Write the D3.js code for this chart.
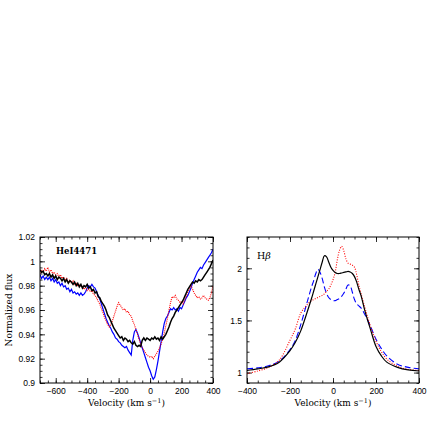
<!DOCTYPE html>
<html>
<head>
<meta charset="utf-8">
<script src="https://cdn.jsdelivr.net/npm/d3@7"></script>
<style>
  body { margin: 0; background: #fff; }
  .tick text { font-family: "Liberation Sans", Arial, sans-serif; font-size: 8.5px; fill: #000; }
  .domain { display: none; }
  .tick line { stroke: #000; stroke-width: 0.8; }
</style>
</head>
<body>
<div id="chart"></div>
<script>
// He I 4471 panel, velocity grid -700..400 step 10
var heVel = d3.range(-700, 401, 10);
var heBlack = [0.993,0.991,0.992,0.989,0.990,0.988,0.990,0.987,0.989,0.986,0.988,0.985,0.987,0.986,0.984,0.986,0.983,0.985,0.982,0.984,
  0.983,0.981,0.983,0.980,0.982,0.979,0.981,0.978,0.980,0.979,0.981,0.978,0.979,0.976,0.977,0.974,0.975,0.971,0.970,0.967,
  0.965,0.963,0.960,0.956,0.954,0.951,0.948,0.945,0.943,0.941,0.939,0.937,0.938,0.935,0.937,0.936,0.934,0.935,0.933,0.932,
  0.934,0.931,0.930,0.931,0.930,0.935,0.937,0.935,0.937,0.936,0.935,0.937,0.936,0.938,0.936,0.937,0.935,0.938,0.936,0.938,
  0.940,0.943,0.946,0.950,0.953,0.955,0.958,0.960,0.962,0.964,0.966,0.968,0.971,0.974,0.977,0.979,0.981,0.983,0.982,0.984,
  0.983,0.985,0.984,0.985,0.987,0.989,0.991,0.993,0.995,0.998,1.001];
var heRed = [0.990,0.993,0.991,0.994,0.992,0.995,0.991,0.993,0.990,0.991,0.989,0.990,0.987,0.989,0.986,0.987,0.985,0.986,0.983,0.985,
  0.982,0.984,0.981,0.982,0.980,0.981,0.979,0.980,0.977,0.979,0.976,0.977,0.975,0.976,0.973,0.972,0.970,0.967,0.965,0.961,
  0.958,0.954,0.951,0.948,0.946,0.948,0.951,0.955,0.959,0.963,0.966,0.964,0.962,0.960,0.961,0.958,0.959,0.956,0.955,0.951,
  0.948,0.944,0.940,0.936,0.932,0.929,0.927,0.925,0.923,0.922,0.921,0.922,0.920,0.922,0.924,0.926,0.929,0.932,0.936,0.941,
  0.947,0.953,0.960,0.966,0.971,0.970,0.972,0.969,0.968,0.966,0.967,0.965,0.968,0.971,0.975,0.978,0.980,0.977,0.974,0.972,
  0.970,0.971,0.969,0.970,0.972,0.970,0.969,0.968,0.970,0.974,0.980];
var heBlue = [0.989,0.986,0.988,0.985,0.987,0.985,0.987,0.984,0.986,0.983,0.985,0.982,0.983,0.980,0.982,0.979,0.980,0.977,0.978,0.975,
  0.977,0.974,0.975,0.973,0.974,0.972,0.974,0.972,0.973,0.975,0.978,0.980,0.979,0.981,0.979,0.978,0.975,0.972,0.969,0.965,
  0.961,0.957,0.953,0.950,0.947,0.945,0.942,0.940,0.937,0.936,0.934,0.933,0.931,0.930,0.929,0.930,0.927,0.925,0.923,0.935,
  0.942,0.944,0.941,0.937,0.933,0.929,0.925,0.921,0.917,0.913,0.910,0.906,0.903,0.905,0.911,0.918,0.926,0.934,0.942,0.949,
  0.953,0.955,0.958,0.961,0.960,0.962,0.960,0.961,0.959,0.962,0.961,0.964,0.967,0.970,0.972,0.975,0.978,0.982,0.985,0.988,
  0.991,0.993,0.995,0.994,0.997,0.999,1.001,1.003,1.005,1.007,1.010];

// H beta panel
var hbVel = [-400,-350,-300,-250,-200,-175,-150,-125,-100,-90,-80,-70,-60,-50,-40,-30,-20,-10,0,10,20,30,40,50,60,70,80,90,100,110,120,130,150,175,200,225,250,300,350,400];
var hbBlack = [1.02,1.035,1.055,1.10,1.21,1.29,1.40,1.55,1.71,1.78,1.85,1.92,1.99,2.06,2.12,2.11,2.06,2.01,1.98,1.96,1.95,1.95,1.955,1.96,1.965,1.97,1.965,1.95,1.92,1.87,1.80,1.74,1.58,1.41,1.25,1.16,1.10,1.05,1.025,1.015];
var hbRed = [0.99,1.015,1.05,1.12,1.31,1.42,1.57,1.64,1.69,1.70,1.71,1.72,1.73,1.74,1.755,1.78,1.80,1.84,1.89,1.96,2.08,2.17,2.21,2.17,2.09,2.05,2.04,2.03,2.01,1.94,1.84,1.76,1.61,1.44,1.30,1.20,1.13,1.06,1.03,1.02];
var hbBlue = [1.035,1.045,1.065,1.11,1.22,1.31,1.46,1.64,1.82,1.88,1.95,1.99,1.96,1.90,1.82,1.76,1.72,1.70,1.69,1.69,1.70,1.71,1.73,1.76,1.80,1.84,1.83,1.77,1.70,1.66,1.64,1.62,1.55,1.44,1.32,1.23,1.16,1.08,1.05,1.035];

var heXMajor = [-600,-400,-200,0,200,400], heXMinor = d3.range(-700, 401, 50);
var heYMajor = [0.9,0.92,0.94,0.96,0.98,1,1.02], heYMinor = d3.range(0.9, 1.0201, 0.005);
var hbXMajor = [-400,-200,0,200,400], hbXMinor = d3.range(-400, 401, 50);
var hbYMajor = [1,1.5,2], hbYMinor = d3.range(0.9, 2.301, 0.1);

var svg = d3.select("#chart").append("svg").attr("width", 436).attr("height", 436);

function panel(opt) {
  var x = d3.scaleLinear().domain(opt.xd).range([opt.x0, opt.x1]);
  var y = d3.scaleLinear().domain(opt.yd).range([opt.y1, opt.y0]);
  var g = svg.append("g");
  var yfmt = function(d) { return d3.format("~g")(+d.toFixed(3)); };

  // major + minor ticks on all four sides, pointing inward
  g.append("g").attr("transform", "translate(0," + opt.y1 + ")")
    .call(d3.axisBottom(x).tickValues(opt.xMinor).tickSize(-2.5).tickFormat(""));
  g.append("g").attr("transform", "translate(0," + opt.y1 + ")")
    .call(d3.axisBottom(x).tickValues(opt.xMajor).tickSize(-5).tickPadding(5).tickFormat(function(d){ return d < 0 ? "\u2212" + (-d) : d; }));
  g.append("g").attr("transform", "translate(0," + opt.y0 + ")")
    .call(d3.axisTop(x).tickValues(opt.xMinor).tickSize(-2.5).tickFormat(""));
  g.append("g").attr("transform", "translate(0," + opt.y0 + ")")
    .call(d3.axisTop(x).tickValues(opt.xMajor).tickSize(-5).tickFormat(""));
  g.append("g").attr("transform", "translate(" + opt.x0 + ",0)")
    .call(d3.axisLeft(y).tickValues(opt.yMinor).tickSize(-2.5).tickFormat(""));
  g.append("g").attr("transform", "translate(" + opt.x0 + ",0)")
    .call(d3.axisLeft(y).tickValues(opt.yMajor).tickSize(-5).tickPadding(5).tickFormat(yfmt));
  g.append("g").attr("transform", "translate(" + opt.x1 + ",0)")
    .call(d3.axisRight(y).tickValues(opt.yMinor).tickSize(-2.5).tickFormat(""));
  g.append("g").attr("transform", "translate(" + opt.x1 + ",0)")
    .call(d3.axisRight(y).tickValues(opt.yMajor).tickSize(-5).tickFormat(""));

  var clipId = "clip" + opt.x0;
  svg.append("clipPath").attr("id", clipId).append("rect")
    .attr("x", opt.x0).attr("y", opt.y0).attr("width", opt.x1 - opt.x0).attr("height", opt.y1 - opt.y0);
  var lines = g.append("g").attr("clip-path", "url(#" + clipId + ")");

  opt.series.forEach(function(s) {
    var line = d3.line()
      .x(function(d, i) { return x(s.vel[i]); })
      .y(function(d) { return y(d); })
      .curve(s.curve || d3.curveLinear);
    lines.append("path").datum(s.vals)
      .attr("d", line)
      .attr("fill", "none")
      .attr("stroke", s.color)
      .attr("stroke-width", s.width)
      .attr("stroke-dasharray", s.dash || null);
  });

  g.append("rect").attr("x", opt.x0).attr("y", opt.y0)
    .attr("width", opt.x1 - opt.x0).attr("height", opt.y1 - opt.y0)
    .attr("fill", "none").attr("stroke", "#000").attr("stroke-width", 1);

  var t = g.append("text").attr("x", (opt.x0 + opt.x1) / 2).attr("y", opt.y1 + 23)
    .attr("text-anchor", "middle").style("font-family", "DejaVu Serif, serif").style("font-size", "9px");
  t.append("tspan").text("Velocity (km s");
  t.append("tspan").attr("dy", -3.5).style("font-size", "6.5px").text("\u22121");
  t.append("tspan").attr("dy", 3.5).text(")");

  return g;
}

var left = panel({
  x0: 40, x1: 213, y0: 237, y1: 383,
  xd: [-700, 400], yd: [0.9, 1.02],
  xMajor: heXMajor, xMinor: heXMinor, yMajor: heYMajor, yMinor: heYMinor,
  series: [
    { vel: heVel, vals: heBlue, color: "#0000ff", width: 1.2 },
    { vel: heVel, vals: heRed, color: "#ff0000", width: 1.1, dash: "1,1" },
    { vel: heVel, vals: heBlack, color: "#000", width: 1.5 }
  ]
});
left.append("text").attr("x", 56).attr("y", 254)
  .style("font-family", "DejaVu Serif, serif").style("font-size", "8.5px").style("font-weight", "bold")
  .text("HeI4471");
svg.append("text").attr("transform", "translate(12,310) rotate(-90)")
  .attr("text-anchor", "middle").style("font-family", "DejaVu Serif, serif").style("font-size", "9px")
  .text("Normalized flux");

var right = panel({
  x0: 247, x1: 419, y0: 237, y1: 383,
  xd: [-400, 400], yd: [0.9, 2.3],
  xMajor: hbXMajor, xMinor: hbXMinor, yMajor: hbYMajor, yMinor: hbYMinor,
  series: [
    { vel: hbVel, vals: hbBlue, color: "#0000ff", width: 1.1, dash: "6,3", curve: d3.curveCatmullRom },
    { vel: hbVel, vals: hbRed, color: "#ff0000", width: 1.1, dash: "1,1.5", curve: d3.curveCatmullRom },
    { vel: hbVel, vals: hbBlack, color: "#000", width: 1.2, curve: d3.curveCatmullRom }
  ]
});
var hb = right.append("text").attr("x", 257).attr("y", 259)
  .style("font-family", "DejaVu Serif, serif").style("font-size", "9.5px");
hb.append("tspan").text("H");
hb.append("tspan").style("font-style", "italic").text("\u03b2");
</script>
</body>
</html>
